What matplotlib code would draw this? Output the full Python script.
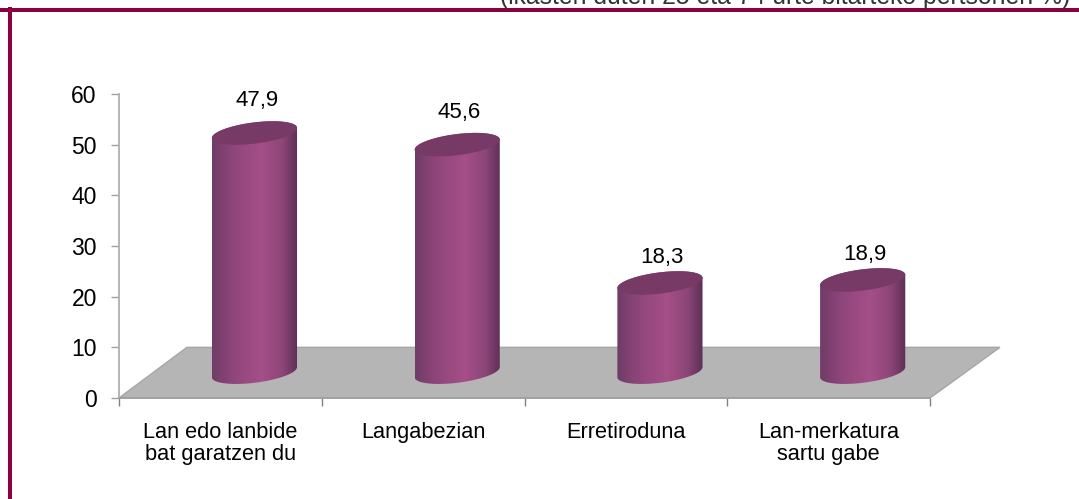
import numpy as np
import matplotlib
matplotlib.use('Agg')
import matplotlib.pyplot as plt
from matplotlib.colors import LinearSegmentedColormap
from matplotlib.patches import PathPatch, Polygon, Rectangle
from matplotlib.path import Path

categories = ['Lan edo lanbide\nbat garatzen du', 'Langabezian', 'Erretiroduna', 'Lan-merkatura\nsartu gabe']
values = [47.9, 45.6, 18.3, 18.9]
value_labels = ['47,9', '45,6', '18,3', '18,9']
y_ticks = [0, 10, 20, 30, 40, 50, 60]

W, H = 1079, 499
plt.rcParams['font.family'] = ['Liberation Sans', 'DejaVu Sans']

fig = plt.figure(figsize=(W / 100, H / 100), dpi=100)
ax = fig.add_axes([119 / W, 1 - 398 / H, (930 - 119) / W, (398 - 94) / H])

# 3d look: the floor sits behind the axis, bars stand in the middle of it
depth_x = 0.335
depth_y = 10
bar_x = 0.668
base_y = 5.1
top_y = 4.4
half_w = 0.21
ell_b = 2.1
ell_k = 1.0

ax.add_patch(Polygon([(0, 0), (depth_x, depth_y), (4 + depth_x + 0.01, depth_y), (4, 0)],
                     closed=True, fc='#b5b5b5', ec='#a6a6a6', lw=1, zorder=1, clip_on=False))

cyl_cmap = LinearSegmentedColormap.from_list('cyl', [(0, '#6f3c66'), (0.22, '#8c4579'), (0.58, '#a64f88'),
                                                    (0.82, '#8c4678'), (1, '#5d2f55')])
grad = np.linspace(0, 1, 256).reshape(1, -1)
t = np.linspace(0, 2 * np.pi, 121)

for i, v in enumerate(values):
    cx = i + bar_x
    top = top_y + v
    # lower half of the base ellipse, then back along the top
    tb = np.linspace(np.pi, 2 * np.pi, 60)
    xb = cx + half_w * np.cos(tb)
    yb = base_y + ell_b * np.sin(tb) + ell_k * np.cos(tb)
    tt = np.linspace(0, np.pi, 60)
    xt = cx + half_w * np.cos(tt)
    yt = top + ell_b * np.sin(tt) + ell_k * np.cos(tt)
    body = PathPatch(Path(np.column_stack([np.r_[xb, xt], np.r_[yb, yt]])), fc='none', ec='none', zorder=2)
    ax.add_patch(body)
    im = ax.imshow(grad, cmap=cyl_cmap, aspect='auto', zorder=2, interpolation='bilinear',
                   extent=[cx - half_w, cx + half_w, 0, 60])
    im.set_clip_path(body)
    ax.fill(cx + half_w * np.cos(t), top + ell_b * np.sin(t) + ell_k * np.cos(t), color='#773a66', lw=0, zorder=3)
    ax.text(cx + 0.012, top + 4.2 + 0.045 * v, value_labels[i], ha='center', va='center', fontsize=16, color='black')

ax.set_xlim(0, 4)
ax.set_ylim(0, 60)
ax.set_xticks(range(5))
ax.set_xticklabels([])
ax.set_yticks(y_ticks)
ax.tick_params(axis='y', length=6, width=1, color='#a0a0a0', labelsize=16.5, pad=10)
ax.tick_params(axis='x', length=6, width=1, color='#808080')
for i, c in enumerate(categories):
    ax.annotate(c, (i + 0.5, 0), xytext=(0, -17), textcoords='offset points',
                ha='center', va='top', fontsize=15.7, linespacing=1.1, color='black')
for s in ['top', 'right']:
    ax.spines[s].set_visible(False)
ax.spines['left'].set_color('#b0b0b0')
ax.spines['left'].set_linewidth(1.3)
ax.spines['bottom'].set_color('#a0a0a0')
ax.spines['bottom'].set_linewidth(1.3)
ax.patch.set_alpha(0)

# frame of the page box
frame = '#8b0040'
fig.add_artist(Rectangle((0, 1 - 12 / H), 1, 4 / H, transform=fig.transFigure, fc=frame, ec='none'))
fig.add_artist(Rectangle((8 / W, 0), 4 / W, 1 - 7 / H, transform=fig.transFigure, fc=frame, ec='none'))

# subtitle is cut off by the top edge in the original
fig.text(1070 / W, 1 - 4 / H, '(ikasten duten 25 eta 74 urte bitarteko pertsonen %)', ha='right', va='baseline',
         fontsize=17.8, color='#333333')

fig.savefig('out.png', dpi=100)
